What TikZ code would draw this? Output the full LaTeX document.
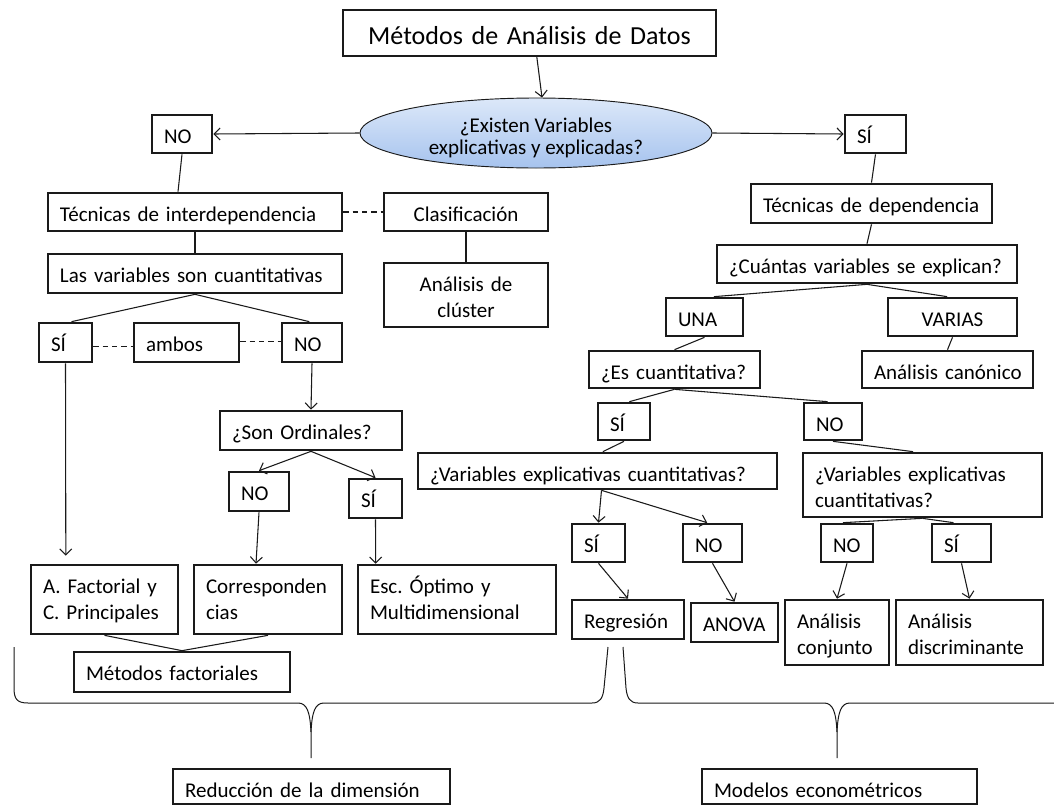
\documentclass[tikz,border=0pt]{standalone}
\usepackage{fontspec}
\setmainfont{Carlito}
\frenchspacing
\usetikzlibrary{arrows.meta,shapes.geometric}

\definecolor{ovaltop}{HTML}{DCE8F9}
\definecolor{ovalbot}{HTML}{A6C3EE}
\definecolor{ink}{HTML}{1A1A1A}

\tikzset{
  % place a box by its corners (x1,y1,x2,y2), all in pixel units;
  % the first baseline sits a fixed distance below the top edge
  px/.code n args={4}{%
    \pgfmathsetmacro\bxw{(#3-#1)*0.75}%
    \pgfmathsetmacro\bxh{(#4-#2)*0.75}%
    \pgfmathsetmacro\bxt{(#3-#1)*0.75-18}%
    \pgfmathsetmacro\bxd{(#4-#2)*0.75-21.4}%
    \pgfmathsetmacro\bxcx{(#1+#3)/2}%
    \pgfmathsetmacro\bxcy{(#2+#4)/2}%
    \edef\bxopts{minimum width=\bxw pt, minimum height=\bxh pt,
      text width=\bxt pt, text height=21.4pt, text depth=\bxd pt,
      at={(\bxcx,\bxcy)}}%
    \expandafter\tikzset\expandafter{\bxopts}},
  txt/.style={font=\fontsize{15.75}{19.5}\selectfont},
  box/.style={draw=ink, line width=2pt, rectangle, inner xsep=9pt,
    inner ysep=0pt, align=left, txt},
  cbox/.style={box, align=center},
  conn/.style={draw=ink, line width=0.8pt},
  arr/.style={conn, -{Straight Barb[length=4.5pt,width=9pt]}},
  dashlink/.style={conn, dash pattern=on 4pt off 3pt},
  brace/.style={draw=ink, line width=0.75pt},
}

\begin{document}
\begin{tikzpicture}[x=0.75pt,y=-0.75pt]
\fill[white] (0,0) rectangle (1054,807);
\useasboundingbox (0,0) rectangle (1054,807);

% ---- top ----
\node[cbox, px={349}{10}{710}{56}, line width=1.6pt, text width=262pt,
      text height=25.5pt, text depth=9pt,
      font=\fontsize{19.5}{24}\selectfont] (title) {Métodos de Análisis de Datos};
\node[ellipse, draw=ink, line width=0.7pt, top color=ovaltop, bottom color=ovalbot,
      minimum width=264pt, minimum height=52.5pt, inner sep=0pt,
      label={[align=center, yshift=-4pt, font=\fontsize{15.75}{16.5}\selectfont]
        center:¿Existen Variables\\explicativas y explicadas?}] (q) at (536,133) {};
\node[box, px={152}{115}{212}{153}] (no1) {NO};
\node[box, px={845}{115}{906}{153}] (si1) {SÍ};

% ---- interdependence branch ----
\node[box, px={48}{193}{342}{231}] (tinter) {Técnicas de interdependencia};
\node[cbox, px={384}{193}{548}{231}] (clasif) {Clasificación};
\node[box, px={48}{254}{342}{293}] (lasvar) {Las variables son cuantitativas};
\node[cbox, px={384}{263}{548}{327}] (cluster) {Análisis de\\clúster};
\node[box, px={39}{323}{92}{362}] (si2) {SÍ};
\node[box, px={134}{323}{239}{362}] (ambos) {ambos};
\node[box, px={282}{323}{342}{362}] (no2) {NO};
\node[box, px={220}{411}{402}{450}] (ordin) {¿Son Ordinales?};
\node[box, px={229}{472}{289}{511}] (no3) {NO};
\node[box, px={349}{479}{402}{518}] (si3) {SÍ};
\node[box, px={31}{565}{178}{634}] (afact) {A. Factorial y\\C. Principales};
\node[box, px={194}{565}{342}{634}] (corr) {Corresponden\\cias};
\node[box, px={358}{565}{556}{634}] (esc) {Esc. Óptimo y\\Multidimensional};
\node[box, px={74}{652}{290}{692}] (mfact) {Métodos factoriales};
\node[box, px={173}{769}{450}{804}] (reduc) {Reducción de la dimensión};

% ---- dependence branch ----
\node[box, px={751}{184}{992}{223}] (tdep) {Técnicas de dependencia};
\node[box, px={717}{245}{1017}{283}] (cuant) {\mbox{¿Cuántas variables se explican?}};
\node[box, px={666}{298}{743}{336}] (una) {UNA};
\node[cbox, px={888}{298}{1017}{336}] (varias) {VARIAS};
\node[box, px={589}{351}{760}{388}] (escuant) {¿Es cuantitativa?};
\node[box, px={862}{351}{1033}{388}] (canon) {\mbox{Análisis canónico}};
\node[box, px={598}{403}{650}{440}] (si4) {SÍ};
\node[box, px={804}{403}{862}{440}] (no4) {NO};
\node[box, px={418}{453}{777}{489}] (vexp1) {\mbox{¿Variables explicativas cuantitativas?}};
\node[box, px={803}{453}{1042}{517}] (vexp2) {¿Variables explicativas\\cuantitativas?};
\node[box, px={572}{524}{625}{562}] (si5) {SÍ};
\node[box, px={683}{524}{742}{562}] (no5) {NO};
\node[box, px={821}{524}{873}{562}] (no6) {NO};
\node[box, px={932}{524}{991}{562}] (si6) {SÍ};
\node[box, px={572}{600}{684}{639}] (regr) {Regresión};
\node[box, px={691}{603}{778}{642}] (anova) {ANOVA};
\node[box, px={785}{600}{889}{665}] (aconj) {Análisis\\conjunto};
\node[box, px={896}{600}{1043}{665}] (adisc) {Análisis\\discriminante};
\node[box, px={702}{769}{977}{804}] (model) {Modelos econométricos};

% ---- connectors ----
\draw[arr] ([xshift=5.5pt]title.south) -- ([xshift=4.5pt]q.north);
\draw[arr] (q.west) -- (no1.east);
\draw[arr] (q.east) -- (si1.west);

\draw[conn] (no1.south) -- ([xshift=-12.75pt]tinter.north);
\draw[dashlink] (tinter.east) -- (clasif.west);
\draw[conn] (tinter.south) -- (lasvar.north);
\draw[conn] (clasif.south) -- (cluster.north);
\draw[conn] (lasvar.south) -- ([xshift=4.5pt]si2.north);
\draw[conn] (lasvar.south) -- ([xshift=-2pt]no2.north);
\draw[dashlink] ([yshift=-3pt]si2.east) -- ([yshift=-3pt]ambos.west);
\draw[dashlink] ([yshift=1pt]ambos.east) -- ([yshift=1pt]no2.west);
\draw[arr] (no2.south) -- (ordin.north);
\draw[arr] (ordin.south) -- (no3.north);
\draw[arr] (ordin.south) -- (si3.north);
\draw[arr, shorten >=6pt] (si2.south) -- ([xshift=-29pt]afact.north);
\draw[arr] (no3.south) -- ([xshift=-9pt]corr.north);
\draw[arr] (si3.south) -- ([xshift=-61pt]esc.north);
\draw[conn] (afact.south) -- (mfact.north);
\draw[conn] (corr.south) -- (mfact.north);

\draw[conn] (si1.south) -- (tdep.north);
\draw[conn] (tdep.south) -- (cuant.north);
\draw[conn] (cuant.south) -- ([xshift=7pt]una.north);
\draw[conn] (cuant.south) -- ([xshift=-4pt]varias.north);
\draw[conn] (una.south) -- (escuant.north);
\draw[conn] (varias.south) -- (canon.north);
\draw[conn] (escuant.south) -- ([xshift=4pt]si4.north);
\draw[conn] (escuant.south) -- ([xshift=-4pt]no4.north);
\draw[conn] (si4.south) -- ([xshift=4pt]vexp1.north);
\draw[conn] (no4.south) -- ([xshift=-7pt]vexp2.north);
\draw[arr] ([xshift=3pt]vexp1.south) -- (si5.north);
\draw[arr] ([xshift=3pt]vexp1.south) -- ([xshift=-4pt]no5.north);
\draw[conn] (vexp2.south) -- ([xshift=-3pt]no6.north);
\draw[conn] (vexp2.south) -- ([xshift=-6pt]si6.north);
\draw[arr] (si5.south) -- (regr.north);
\draw[arr] (no5.south) -- (anova.north);
\draw[arr] (no6.south) -- (aconj.north);
\draw[arr] (si6.south) -- (adisc.north);

% ---- grouping braces ----
\draw[brace] (14,647) -- (14,688) .. controls (14,699) and (17,703) .. (28,703)
  -- (298,703) .. controls (307,703) and (310,712) .. (311,732) -- (311,758);
\draw[brace] (311,732) .. controls (312,712) and (315,703) .. (324,703)
  -- (592,703) .. controls (600,703) and (603,698) .. (604,688) -- (608,647);
\draw[brace] (623,647) -- (626,688) .. controls (627,698) and (630,703) .. (638,703)
  -- (824,703) .. controls (833,703) and (836,712) .. (837,732) -- (837,758);
\draw[brace] (837,732) .. controls (838,712) and (841,703) .. (850,703) -- (1054,703);
\end{tikzpicture}
\end{document}
